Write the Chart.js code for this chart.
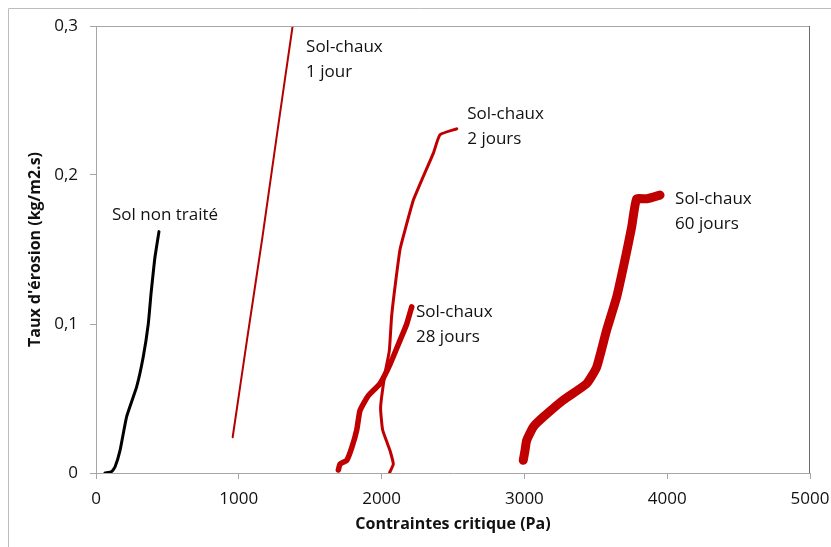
<!DOCTYPE html>
<html>
<head>
<meta charset="utf-8">
<script src="https://cdn.jsdelivr.net/npm/chart.js@4.4.0/dist/chart.umd.min.js"></script>
<style>
  html, body { margin: 0; padding: 0; background: #fff; }
  #wrap { width: 831px; height: 547px; }
</style>
</head>
<body>
<div id="wrap"><canvas id="erosionChart" width="831" height="547"></canvas></div>
<script>
// Contraintes critique (Pa) / Taux d'érosion (kg/m2.s)
const solNonTraiteX = [63, 110, 133, 168, 215, 285, 331, 366, 385, 398, 413, 441];
const solNonTraiteY = [0, 0.001, 0.004, 0.015, 0.038, 0.058, 0.078, 0.100, 0.120, 0.132, 0.145, 0.162];

const chaux1X = [957, 1060, 1165, 1270, 1377];
const chaux1Y = [0.024, 0.091, 0.158, 0.229, 0.300];

const chaux2X = [2055, 2082, 2059, 2040, 2007, 1993, 2024, 2054, 2070, 2094, 2129, 2164, 2222, 2292, 2362, 2409, 2526];
const chaux2Y = [0, 0.006, 0.015, 0.020, 0.029, 0.044, 0.067, 0.082, 0.105, 0.125, 0.150, 0.163, 0.183, 0.199, 0.2145, 0.227, 0.231];

const chaux28X = [1697, 1709, 1756, 1791, 1826, 1849, 1907, 1989, 2059, 2129, 2176, 2211];
const chaux28Y = [0.002, 0.006, 0.0085, 0.017, 0.029, 0.042, 0.052, 0.060, 0.073, 0.089, 0.100, 0.1115];

const chaux60X = [2992, 3004, 3016, 3063, 3133, 3273, 3436, 3506, 3576, 3646, 3704, 3751, 3786, 3856, 3950];
const chaux60Y = [0.0085, 0.015, 0.022, 0.031, 0.0376, 0.049, 0.060, 0.071, 0.096, 0.118, 0.143, 0.165, 0.184, 0.184, 0.1865];

const xTicks = [0, 1000, 2000, 3000, 4000, 5000];
const yTicks = [0, 0.1, 0.2, 0.3];

// series labels: text lines and anchor (data coords of the left / middle of first line)
const labelTexts = [['Sol non traité'], ['Sol-chaux', '1 jour'], ['Sol-chaux', '2 jours'], ['Sol-chaux', '28 jours'], ['Sol-chaux', '60 jours']];
const labelX = [112, 1471, 2600, 2241, 4055];
const labelY = [0.173, 0.286, 0.241, 0.108, 0.1836];

const toPoints = (xs, ys) => xs.map((x, i) => ({ x: x, y: ys[i] }));

const seriesLine = (label, xs, ys, color, width) => ({
    label: label,
    data: toPoints(xs, ys),
    showLine: true,
    borderColor: color,
    backgroundColor: color,
    borderWidth: width,
    pointRadius: 0,
    tension: 0.15,
    borderCapStyle: 'round',
    borderJoinStyle: 'round'
});

const frame = {
    id: 'frame',
    beforeDraw(chart) {
        const c = chart.ctx;
        c.save();
        c.strokeStyle = '#bdbdbd';
        c.lineWidth = 1;
        c.beginPath();
        c.moveTo(8.5, chart.height);
        c.lineTo(8.5, 8.5);
        c.lineTo(chart.width, 8.5);
        c.stroke();
        c.restore();
    },
    afterDraw(chart) {
        const a = chart.chartArea;
        const c = chart.ctx;
        c.save();
        c.lineWidth = 1;
        c.strokeStyle = '#a6a6a6';
        c.beginPath();
        c.moveTo(a.left, a.top + 0.5);
        c.lineTo(a.right, a.top + 0.5);
        c.stroke();
        c.strokeStyle = '#6b6b6b';
        c.beginPath();
        c.moveTo(a.right - 0.5, a.top);
        c.lineTo(a.right - 0.5, a.bottom);
        c.stroke();

        // series labels
        const xs = chart.scales.x, ys = chart.scales.y;
        c.fillStyle = '#111111';
        c.font = '17px "Open Sans"';
        c.textAlign = 'left';
        c.textBaseline = 'middle';
        labelTexts.forEach((lines, i) => {
            const px = xs.getPixelForValue(labelX[i]);
            const py = ys.getPixelForValue(labelY[i]);
            lines.forEach((t, j) => c.fillText(t, px, py + j * 25));
        });
        c.restore();
    }
};

const ctx = document.getElementById('erosionChart').getContext('2d');
new Chart(ctx, {
    type: 'scatter',
    data: {
        datasets: [
            seriesLine('Sol non traité', solNonTraiteX, solNonTraiteY, '#000000', 3),
            seriesLine('Sol-chaux 1 jour', chaux1X, chaux1Y, '#b40000', 2),
            seriesLine('Sol-chaux 2 jours', chaux2X, chaux2Y, '#c00000', 3),
            seriesLine('Sol-chaux 28 jours', chaux28X, chaux28Y, '#c00000', 5.5),
            seriesLine('Sol-chaux 60 jours', chaux60X, chaux60Y, '#c00000', 9)
        ]
    },
    options: {
        responsive: false,
        animation: false,
        layout: { padding: { top: 26, right: 21, left: 0, bottom: 0 } },
        plugins: {
            legend: { display: false },
            tooltip: { enabled: false }
        },
        scales: {
            x: {
                type: 'linear',
                min: 0,
                max: 5000,
                afterFit: s => { s.height = 74; s.paddingLeft = 0; s.paddingRight = 0; },
                afterBuildTicks: s => { s.ticks = xTicks.map(v => ({ value: v })); },
                ticks: {
                    padding: 10,
                    color: '#111111',
                    font: { family: 'Open Sans', size: 17 },
                    callback: v => String(v)
                },
                grid: { drawOnChartArea: false, drawTicks: true, tickLength: 6, color: '#a6a6a6' },
                border: { display: true, color: '#a6a6a6' },
                title: {
                    display: true,
                    text: 'Contraintes critique (Pa)',
                    color: '#111111',
                    font: { family: 'Open Sans', size: 16, weight: 'bold' },
                    padding: { top: 0, bottom: 13 }
                }
            },
            y: {
                min: 0,
                max: 0.3,
                afterFit: s => { s.width = 96; s.paddingTop = 0; s.paddingBottom = 0; },
                afterBuildTicks: s => { s.ticks = yTicks.map(v => ({ value: v })); },
                ticks: {
                    padding: 12,
                    color: '#111111',
                    font: { family: 'Open Sans', size: 17 },
                    callback: v => String(Math.round(v * 10) / 10).replace('.', ',')
                },
                grid: { drawOnChartArea: false, drawTicks: true, tickLength: 6, color: '#a6a6a6' },
                border: { display: true, color: '#a6a6a6' },
                title: {
                    display: true,
                    text: "Taux d'érosion (kg/m2.s)",
                    color: '#111111',
                    font: { family: 'Open Sans', size: 16, weight: 'bold' },
                    padding: { top: 26, bottom: 0 }
                }
            }
        }
    },
    plugins: [frame]
});
</script>
</body>
</html>
